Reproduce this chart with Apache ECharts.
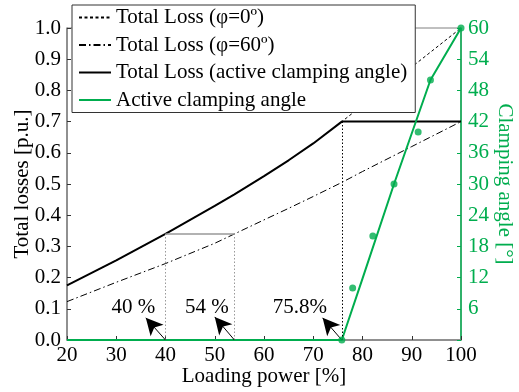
<!DOCTYPE html>
<html>
<head>
<meta charset="utf-8">
<script src="https://cdn.jsdelivr.net/npm/echarts@6/dist/echarts.min.js"></script>
<style>
html,body{margin:0;padding:0;background:#fff;}
#chart{width:519px;height:392px;}
</style>
</head>
<body>
<div id="chart"></div>
<script>
// ---- data ----
const loadX      = [20, 30, 40, 50, 54, 60, 65, 70, 75.8, 80, 90, 100];
const loss0      = [0.175, 0.255, 0.34, 0.43, 0.467, 0.525, 0.576, 0.63, 0.70, 0.752, 0.875, 1.0];
const loss60     = [0.123, 0.185, 0.245, 0.31, 0.34, 0.385, 0.422, 0.46, 0.505, 0.54, 0.62, 0.70];
const lossActive = [0.175, 0.255, 0.34, 0.43, 0.467, 0.525, 0.576, 0.63, 0.70, 0.70, 0.70, 0.70];
const angleLineX = [20, 75.8, 80, 86.4, 93.8, 100];
const angleLine  = [0, 0, 11.8, 30, 50, 60];
const angleDotX  = [75.8, 78, 82.1, 86.4, 91.3, 93.8, 100];
const angleDot   = [0, 10, 20, 30, 40, 50, 60];
const seriesNames = ['Total Loss (φ=0º)', 'Total Loss (φ=60º)', 'Total Loss (active clamping angle)', 'Active clamping angle'];
const markX      = [40, 54, 75.8];          // marked loading points
const markLoss   = [0.34, 0.34, 0.70];      // loss level at the marks
const markText   = ['40 %', '54 %', '75.8%'];
const arrowHeadX = [36, 50, 71.9];
const arrowHeadY = [0.071, 0.074, 0.071];
const textX      = [33.5, 48.4, 67.3];
const textY      = [0.105, 0.105, 0.105];
const xTicks = {min: 20, max: 100, step: 10};
const yTicks = {min: 0, max: 1, step: 0.1};
const y2Ticks = {min: 0, max: 60, step: 6};

const FONT = "'Liberation Serif', 'Times New Roman', 'DejaVu Serif', serif";
const FS = 21;
const GREEN = '#00ad4e';
const GREY = '#808080';

const pair = (xs, ys) => xs.map((x, i) => [x, ys[i]]);

const guideLines = markX.map((x, i) => [
  {coord: [x, 0], lineStyle: {color: i < 2 ? '#999' : '#000', type: [1.5, 2], width: 1}},
  {coord: [x, markLoss[i]]}
]);

const hLine = [[{coord: [markX[0], markLoss[0]], lineStyle: {color: '#999', type: 'solid', width: 1.5}}, {coord: [markX[1], markLoss[1]]}]];

const arrows = markX.map((x, i) => [
  {coord: [x, 0], lineStyle: {color: '#000', width: 1, type: 'solid'}},
  {coord: [arrowHeadX[i], arrowHeadY[i]]}
]);

const texts = markText.map((t, i) => ({
  coord: [textX[i], textY[i]],
  symbol: 'rect', symbolSize: 1,
  itemStyle: {color: 'rgba(0,0,0,0)'},
  label: {show: true, formatter: t, position: 'inside', color: '#000', fontFamily: FONT, fontSize: FS}
}));

const chart = echarts.init(document.getElementById('chart'), null, {renderer: 'canvas'});
chart.setOption({
  animation: false,
  backgroundColor: '#fff',
  textStyle: {fontFamily: FONT},
  grid: {left: 67, right: 58, top: 28, bottom: 52, outerBoundsMode: 'none', containLabel: false,
         show: true, borderColor: GREY, borderWidth: 1, backgroundColor: 'transparent'},
  legend: {
    data: seriesNames,
    orient: 'vertical',
    left: 72, top: 5,
    backgroundColor: '#fff',
    borderColor: '#333', borderWidth: 1,
    padding: [2, 8, 2, 6],
    itemGap: 6.5,
    itemWidth: 32, itemHeight: 14,
    itemStyle: {opacity: 0},
    textStyle: {fontFamily: FONT, fontSize: FS, color: '#000', lineHeight: 20},
    z: 10
  },
  xAxis: {
    type: 'value', min: xTicks.min, max: xTicks.max, interval: xTicks.step,
    name: 'Loading power [%]', nameLocation: 'middle', nameGap: 26, nameMoveOverlap: false,
    nameTextStyle: {fontFamily: FONT, fontSize: FS, color: '#000'},
    axisLine: {lineStyle: {color: GREY, width: 1.5}},
    axisTick: {inside: true, length: 4, lineStyle: {color: '#333'}},
    axisLabel: {fontFamily: FONT, fontSize: FS, color: '#000', margin: 5},
    splitLine: {show: false}
  },
  yAxis: [{
    type: 'value', min: yTicks.min, max: yTicks.max, interval: yTicks.step,
    name: 'Total losses [p.u.]', nameLocation: 'middle', nameGap: 34, nameMoveOverlap: false,
    nameTextStyle: {fontFamily: FONT, fontSize: FS, color: '#000'},
    axisLine: {show: true, lineStyle: {color: GREY, width: 1.5}},
    axisTick: {show: true, inside: true, length: 4, lineStyle: {color: '#333'}},
    axisLabel: {fontFamily: FONT, fontSize: FS, color: '#000', margin: 6, formatter: v => v.toFixed(1)},
    splitLine: {show: false}
  }, {
    type: 'value', position: 'right', min: y2Ticks.min, max: y2Ticks.max, interval: y2Ticks.step,
    name: 'Clamping angle [°]', nameLocation: 'middle', nameGap: 33, nameRotate: -90, nameMoveOverlap: false,
    nameTextStyle: {fontFamily: FONT, fontSize: FS, color: GREEN},
    axisLine: {show: true, lineStyle: {color: GREEN, width: 1.5}},
    axisTick: {show: true, inside: true, length: 4, lineStyle: {color: GREEN}},
    axisLabel: {fontFamily: FONT, fontSize: FS, color: GREEN, margin: 7, formatter: v => v === 0 ? '' : String(v)},
    splitLine: {show: false}
  }],
  series: [{
    name: seriesNames[0], type: 'line', data: pair(loadX, loss0), symbol: 'none',
    lineStyle: {color: '#000', width: 1, type: [3, 2.5]}, itemStyle: {color: '#000'}, z: 2
  }, {
    name: seriesNames[1], type: 'line', data: pair(loadX, loss60), symbol: 'none',
    lineStyle: {color: '#000', width: 1, type: [7, 3, 1.5, 3]}, itemStyle: {color: '#000'}, z: 2
  }, {
    name: seriesNames[2], type: 'line', data: pair(loadX, lossActive), symbol: 'none',
    lineStyle: {color: '#000', width: 2}, itemStyle: {color: '#000'}, z: 3,
    markLine: {
      silent: true, symbol: ['none', 'none'], label: {show: false},
      data: guideLines.concat(hLine)
    }
  }, {
    name: seriesNames[3], type: 'line', yAxisIndex: 1, data: pair(angleLineX, angleLine), symbol: 'none',
    lineStyle: {color: GREEN, width: 2}, itemStyle: {color: GREEN}, z: 4
  }, {
    name: 'points', type: 'scatter', yAxisIndex: 1, data: pair(angleDotX, angleDot),
    symbol: 'circle', symbolSize: 7, itemStyle: {color: GREEN}, z: 5
  }, {
    name: 'annot', type: 'line', data: [], symbol: 'none',
    markLine: {
      silent: true, symbol: ['none', 'arrow'], symbolSize: [13, 17], label: {show: false},
      lineStyle: {color: '#000', width: 1, type: 'solid'},
      itemStyle: {color: '#000'},
      data: arrows
    },
    markPoint: {silent: true, data: texts}
  }]
});
</script>
</body>
</html>
